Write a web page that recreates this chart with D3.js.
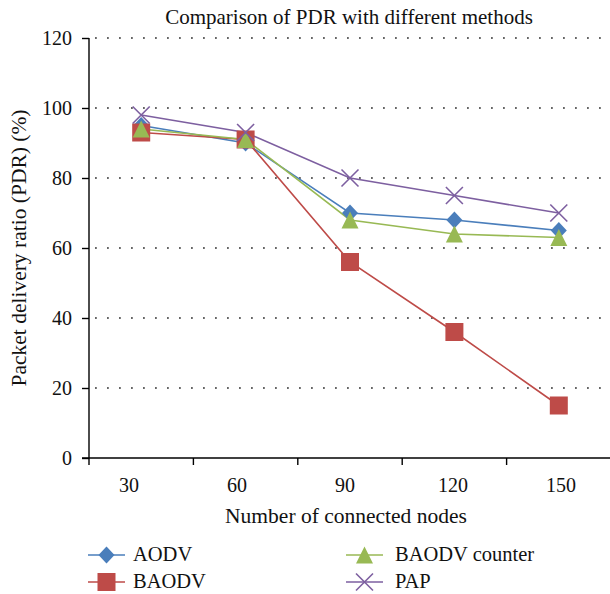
<!DOCTYPE html>
<html><head><meta charset="utf-8">
<script src="https://cdn.jsdelivr.net/npm/d3@7"></script>
<style>body{margin:0;background:#fff}svg{display:block}</style>
</head><body>
<script>
const categories = ["30","60","90","120","150"];
const aodv = [95, 90, 70, 68, 65];
const baodv = [93, 91, 56, 36, 15];
const baodvCounter = [94, 91, 68, 64, 63];
const pap = [98, 93, 80, 75, 70];
const yTicks = [0, 20, 40, 60, 80, 100, 120];
const seriesNames = ["AODV", "BAODV", "BAODV counter", "PAP"];

const series = [
  {name: seriesNames[0], values: aodv, color: "#4a7ebb", shape: "diamond"},
  {name: seriesNames[1], values: baodv, color: "#be4b48", shape: "square"},
  {name: seriesNames[2], values: baodvCounter, color: "#98b954", shape: "triangle"},
  {name: seriesNames[3], values: pap, color: "#7d5fa0", shape: "cross"}
];

const FONT = "'Liberation Serif', 'Times New Roman', serif";
const W = 610, H = 594;
const L = 89, R = 611, T = 38, B = 458;
const svg = d3.select("body").append("svg").attr("width", W).attr("height", H);

const x = d3.scaleBand().domain(categories).range([L, R]).padding(0);
const xLab = d3.scaleBand().domain(categories).range([75, 615]).padding(0);
const y = d3.scaleLinear().domain([0, 120]).range([B, T]);

function txt(sel, size) {
  return sel.style("font-family", FONT).style("font-size", size + "px").attr("fill", "#111");
}

// gridlines
svg.append("g").selectAll("line").data(yTicks.filter(d => d > 0)).join("line")
  .attr("x1", L + 6).attr("x2", R).attr("y1", d => y(d)).attr("y2", d => y(d))
  .attr("stroke", "#333").attr("stroke-width", 1.7).attr("stroke-dasharray", "1.8 10.2");

// y axis
const ya = svg.append("g").attr("transform", `translate(${L},0)`)
  .call(d3.axisLeft(y).tickValues(yTicks).tickSize(7).tickPadding(10));
ya.attr("font-family", null).attr("font-size", null);
ya.select(".domain").attr("stroke", "#000").attr("stroke-width", 1.4).attr("d", `M0,${T}V${B}`);
ya.selectAll(".tick line").attr("stroke", "#000").attr("stroke-width", 1.4);
txt(ya.selectAll(".tick text"), 20);

// x axis (labels on their own band scale, as in the original figure)
const xa = svg.append("g").attr("transform", `translate(0,${B})`)
  .call(d3.axisBottom(xLab).tickSize(0).tickPadding(20));
xa.attr("font-family", null).attr("font-size", null);
xa.select(".domain").remove();
txt(xa.selectAll(".tick text"), 20);
svg.append("line").attr("x1", L - 7).attr("x2", R).attr("y1", B).attr("y2", B)
  .attr("stroke", "#000").attr("stroke-width", 1.4);
svg.append("g").selectAll("line").data(categories).join("line")
  .attr("x1", d => x(d)).attr("x2", d => x(d)).attr("y1", B).attr("y2", B + 7)
  .attr("stroke", "#000").attr("stroke-width", 1.4);

// titles
txt(svg.append("text").attr("x", 349).attr("y", 24).attr("text-anchor", "middle"), 21)
  .text("Comparison of PDR with different methods");
txt(svg.append("text").attr("x", 346).attr("y", 523).attr("text-anchor", "middle"), 21.5)
  .text("Number of connected nodes");
txt(svg.append("text").attr("transform", "translate(26,248) rotate(-90)").attr("text-anchor", "middle"), 21.5)
  .text("Packet delivery ratio (PDR) (%)");

function drawMarker(g, shape, color) {
  if (shape === "diamond") {
    g.append("path").attr("d", "M0,-8.5L8,0L0,8.5L-8,0Z").attr("fill", color);
  } else if (shape === "square") {
    g.append("rect").attr("x", -9).attr("y", -9).attr("width", 18).attr("height", 18).attr("fill", color);
  } else if (shape === "triangle") {
    g.append("path").attr("d", "M0,-8.5L8.5,8.5L-8.5,8.5Z").attr("fill", color);
  } else {
    g.append("path").attr("d", "M-8.5,-8.5L8.5,8.5M-8.5,8.5L8.5,-8.5").attr("stroke", color).attr("stroke-width", 1.6).attr("fill", "none");
  }
}

const line = d3.line().x((d, i) => x(categories[i]) + x.bandwidth() / 2).y(d => y(d));
series.forEach(s => {
  svg.append("path").datum(s.values).attr("d", line).attr("fill", "none")
    .attr("stroke", s.color).attr("stroke-width", 1.6);
});
series.forEach(s => {
  s.values.forEach((v, i) => {
    const g = svg.append("g").attr("transform", `translate(${x(categories[i]) + x.bandwidth()/2},${y(v)})`);
    drawMarker(g, s.shape, s.color);
  });
});

// legend
const legPos = [[88, 555, 45], [88, 582, 45], [346, 555, 49], [346, 582, 49]];
series.forEach((s, i) => {
  const [lx, ly, tx] = legPos[i];
  const g = svg.append("g").attr("transform", `translate(${lx},${ly})`);
  g.append("line").attr("x1", 0).attr("x2", 37).attr("y1", 0).attr("y2", 0).attr("stroke", s.color).attr("stroke-width", 1.6);
  const m = g.append("g").attr("transform", "translate(18.5,0)");
  drawMarker(m, s.shape, s.color);
  txt(g.append("text").attr("x", tx).attr("y", 6), 20.5).text(s.name);
});
</script>
</body></html>
